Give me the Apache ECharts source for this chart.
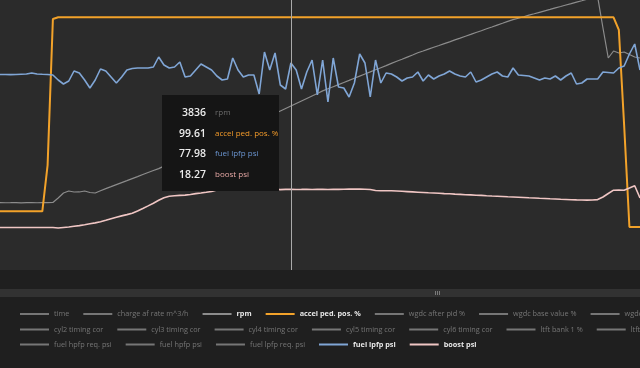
<!DOCTYPE html>
<html><head><meta charset="utf-8">
<script src="https://cdn.jsdelivr.net/npm/echarts@6/dist/echarts.min.js"></script>
<style>html,body{margin:0;padding:0;background:#1f1f1f;}#c{width:640px;height:368px;}</style>
</head><body><div id="c"></div>
<script>
// ---- legend rows (series names) ----
const legendRow1 = ['time', 'charge af rate m^3/h', 'rpm', 'accel ped. pos. %', 'wgdc after pid %', 'wgdc base value %', 'wgdc boost target psi'];
const legendRow2 = ['cyl2 timing cor', 'cyl3 timing cor', 'cyl4 timing cor', 'cyl5 timing cor', 'cyl6 timing cor', 'ltft bank 1 %', 'ltft bank 2 %'];
const legendRow3 = ['fuel hpfp req. psi', 'fuel hpfp psi', 'fuel lpfp req. psi', 'fuel lpfp psi', 'boost psi'];
const shownSeries = ['rpm', 'accel ped. pos. %', 'fuel lpfp psi', 'boost psi'];
const hoverIndex = 55;

// ---- series values (one sample per log row) ----
const rpm = [858, 856, 857, 859, 855, 858, 857, 856, 859, 857,
 864, 1002, 1156, 1218, 1187, 1188, 1218, 1172, 1156, 1227,
 1292, 1353, 1415, 1477, 1538, 1600, 1661, 1726, 1788, 1849,
 1908, 1985, 2062, 2139, 2216, 2293, 2370, 2447, 2524, 2601,
 2678, 2755, 2832, 2909, 2986, 3063, 3140, 3217, 3294, 3371,
 3451, 3528, 3605, 3682, 3759, 3836, 3913, 3990, 4067, 4144,
 4221, 4301, 4366, 4430, 4495, 4560, 4624, 4692, 4757, 4822,
 4886, 4951, 5016, 5080, 5148, 5213, 5277, 5342, 5407, 5475,
 5530, 5588, 5644, 5699, 5758, 5813, 5872, 5927, 5986, 6041,
 6100, 6155, 6214, 6269, 6328, 6383, 6442, 6497, 6540, 6586,
 6633, 6676, 6722, 6768, 6811, 6857, 6901, 6947, 6990, 7036,
 7079, 7125, 7169, 7193, 6238, 5314, 5530, 5468, 5499, 5422,
 5345, 5314];
const accelPedPos = [7.45, 7.45, 7.45, 7.45, 7.45, 7.45, 7.45, 7.45, 7.45, 29.4,
 98.8, 99.61, 99.61, 99.61, 99.61, 99.61, 99.61, 99.61, 99.61, 99.61,
 99.61, 99.61, 99.61, 99.61, 99.61, 99.61, 99.61, 99.61, 99.61, 99.61,
 99.61, 99.61, 99.61, 99.61, 99.61, 99.61, 99.61, 99.61, 99.61, 99.61,
 99.61, 99.61, 99.61, 99.61, 99.61, 99.61, 99.61, 99.61, 99.61, 99.61,
 99.61, 99.61, 99.61, 99.61, 99.61, 99.61, 99.61, 99.61, 99.61, 99.61,
 99.61, 99.61, 99.61, 99.61, 99.61, 99.61, 99.61, 99.61, 99.61, 99.61,
 99.61, 99.61, 99.61, 99.61, 99.61, 99.61, 99.61, 99.61, 99.61, 99.61,
 99.61, 99.61, 99.61, 99.61, 99.61, 99.61, 99.61, 99.61, 99.61, 99.61,
 99.61, 99.61, 99.61, 99.61, 99.61, 99.61, 99.61, 99.61, 99.61, 99.61,
 99.61, 99.61, 99.61, 99.61, 99.61, 99.61, 99.61, 99.61, 99.61, 99.61,
 99.61, 99.61, 99.61, 99.61, 99.61, 99.61, 99.61, 93.6, 48.45, 0,
 0, 0];
const fuelLpfpPsi = [75.11, 75.10, 75.08, 75.11, 75.18, 75.23, 75.48, 75.23, 75.16, 75.11,
 74.98, 73.73, 72.73, 73.48, 75.98, 75.48, 73.73, 71.73, 73.73, 76.48,
 75.98, 74.48, 72.98, 74.48, 76.23, 76.61, 76.73, 76.73, 76.73, 76.98,
 79.48, 77.48, 76.73, 76.98, 78.23, 74.48, 74.73, 76.23, 77.73, 76.98,
 76.23, 74.73, 73.73, 73.98, 79.23, 76.23, 74.48, 74.98, 74.98, 70.23,
 80.73, 76.23, 80.48, 72.48, 71.48, 77.98, 76.23, 71.48, 75.73, 78.73,
 69.98, 78.73, 68.23, 79.23, 71.98, 71.73, 69.48, 72.98, 80.23, 77.98,
 69.48, 78.73, 72.98, 75.48, 75.23, 74.48, 73.48, 74.23, 74.48, 75.73,
 73.48, 74.98, 73.98, 74.73, 75.23, 75.98, 75.23, 74.73, 74.48, 75.73,
 73.23, 73.73, 74.48, 75.23, 75.73, 74.73, 74.48, 76.73, 74.98, 74.86,
 74.73, 74.23, 73.73, 74.23, 73.98, 74.73, 73.73, 74.73, 75.48, 72.73,
 72.98, 73.98, 73.98, 73.98, 75.73, 75.61, 75.48, 76.73, 77.23, 80.23,
 82.73, 76.23];
const boostPsi = [-10.38, -10.42, -10.35, -10.40, -10.38, -10.33, -10.36, -10.40, -10.38, -10.35,
 -10.40, -10.76, -10.38, -10.01, -9.48, -8.96, -8.36, -7.61, -6.93, -6.11,
 -4.98, -3.78, -2.66, -1.68, -0.71, 0.35, 2.00, 3.87, 5.82, 7.85,
 10.02, 11.90, 13.02, 13.40, 13.70, 13.92, 14.37, 15.05, 15.50, 16.02,
 16.62, 17.75, 18.12, 18.27, 18.12, 18.50, 18.27, 18.50, 18.35, 18.65,
 18.50, 18.20, 18.35, 18.05, 18.20, 18.27, 18.12, 18.20, 18.35, 18.12,
 18.27, 18.20, 18.12, 18.27, 18.20, 18.35, 18.42, 18.42, 18.50, 18.35,
 18.12, 17.37, 17.22, 17.22, 17.22, 17.00, 16.77, 16.55, 16.32, 16.10,
 15.87, 15.65, 15.50, 15.27, 15.05, 14.90, 14.67, 14.45, 14.22, 14.07,
 13.85, 13.70, 13.47, 13.25, 13.10, 12.87, 12.65, 12.50, 12.35, 12.12,
 11.90, 11.75, 11.52, 11.37, 11.15, 11.00, 10.77, 10.62, 10.47, 10.32,
 10.25, 10.17, 10.25, 10.55, 12.50, 15.12, 17.60, 17.75, 17.60, 19.25,
 20.97, 11.75];

// ---- styling ----
const FONT = "'Open Sans', 'Noto Sans', sans-serif";
const seriesStyle = {
  'rpm': {color: '#8c8c8c', width: 1.2, axis: 0, label: '#6c6c6c', decimals: 0},
  'accel ped. pos. %': {color: '#f2a22a', width: 2, axis: 1, label: '#f29a2a', decimals: 2},
  'fuel lpfp psi': {color: '#80a6d6', width: 1.6, axis: 2, label: '#6a94cf', decimals: 2},
  'boost psi': {color: '#f0c6c4', width: 1.6, axis: 3, label: '#e6a7a4', decimals: 2}
};
const seriesData = {'rpm': rpm, 'accel ped. pos. %': accelPedPos, 'fuel lpfp psi': fuelLpfpPsi, 'boost psi': boostPsi};

const allNames = legendRow1.concat(legendRow2, legendRow3);
const selected = {};
allNames.forEach(n => { selected[n] = shownSeries.includes(n); });

const series = allNames.map(n => {
  const st = seriesStyle[n];
  return {
    name: n, type: 'line', symbol: 'none', animation: false,
    yAxisIndex: st ? st.axis : 0,
    color: st ? st.color : '#777777',
    lineStyle: {width: st ? st.width : 1, color: st ? st.color : '#777777'},
    emphasis: {disabled: true},
    data: seriesData[n] || []
  };
});

function legendRow(names, top) {
  return {
    type: 'plain', orient: 'horizontal', left: 20, top: top, width: 3000, padding: 0,
    itemWidth: 29, itemHeight: 2, itemGap: 14, icon: 'rect',
    inactiveColor: '#767676', inactiveBorderColor: '#767676',
    selected: selected,
    textStyle: {color: '#e6e6e6', fontSize: 7.3, fontFamily: FONT, fontWeight: 'normal'},
    data: names.map(n => shownSeries.includes(n) ? {name: n, textStyle: {fontWeight: 'bold'}} : {name: n})
  };
}

const chart = echarts.init(document.getElementById('c'), null, {renderer: 'canvas'});
chart.setOption({
  backgroundColor: '#1f1f1f',
  animation: false,
  grid: {left: 0, right: 0, top: 0, height: 270, show: true, backgroundColor: '#2b2b2b', borderWidth: 0},
  xAxis: {type: 'category', boundaryGap: false, show: false},
  yAxis: [
    {type: 'value', show: false, min: -1215.2, max: 7100.8},
    {type: 'value', show: false, min: -20.44, max: 107.83},
    {type: 'value', show: false, min: 26.23, max: 93.73},
    {type: 'value', show: false, min: -42.26, max: 160.25}
  ],
  legend: [legendRow(legendRow1, 310.5), legendRow(legendRow2, 326), legendRow(legendRow3, 341)],
  tooltip: {
    trigger: 'axis', triggerOn: 'none', alwaysShowContent: true, showDelay: 0, transitionDuration: 0,
    backgroundColor: '#151515', borderWidth: 0, padding: 0,
    extraCssText: 'box-shadow:none;border-radius:0;',
    axisPointer: {type: 'line', animation: false, snap: true, label: {show: false},
      lineStyle: {color: '#aaaaaa', width: 1, type: 'solid'}},
    position: function (point) { return [Math.round(point[0]) - 129, 95]; },
    formatter: function (params) {
      let html = '<div style="width:107px;padding:7px 0 7px 10px;font-family:' + FONT.replace(/"/g, '') + ';">';
      params.forEach(p => {
        const st = seriesStyle[p.seriesName];
        if (!st) return;
        const v = Number(p.value).toFixed(st.decimals);
        html += '<div style="display:flex;align-items:center;height:20.5px;line-height:20.5px;white-space:nowrap">' +
          '<span style="display:inline-block;width:34px;text-align:right;color:#ececec;font-size:10.5px;font-weight:600">' + v + '</span>' +
          '<span style="margin-left:9px;color:' + st.label + ';font-size:8px">' + p.seriesName + '</span></div>';
      });
      return html + '</div>';
    }
  },
  graphic: [
    {type: 'rect', left: 0, top: 289, shape: {width: 640, height: 8}, style: {fill: '#323232'}, silent: true},
    {type: 'group', left: 435, top: 291, silent: true, children: [
      {type: 'rect', shape: {x: 0, y: 0, width: 1, height: 4}, style: {fill: '#7a7a7a'}},
      {type: 'rect', shape: {x: 2, y: 0, width: 1, height: 4}, style: {fill: '#7a7a7a'}},
      {type: 'rect', shape: {x: 4, y: 0, width: 1, height: 4}, style: {fill: '#7a7a7a'}}
    ]}
  ],
  series: series
});
chart.dispatchAction({type: 'showTip', seriesIndex: allNames.indexOf('rpm'), dataIndex: hoverIndex});
</script>
</body></html>
